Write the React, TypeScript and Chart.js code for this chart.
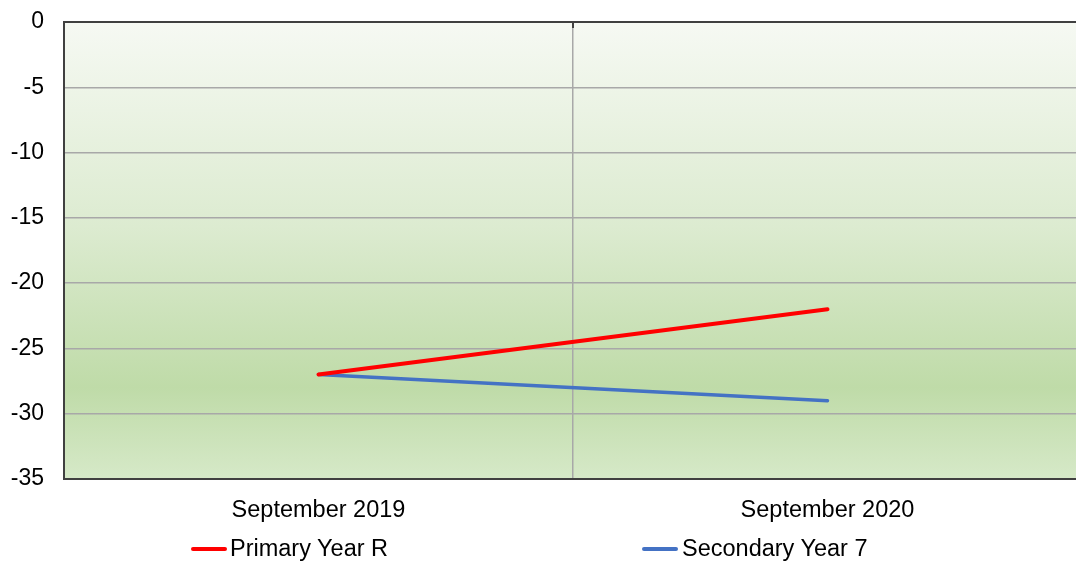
import React, { useEffect, useRef } from "react";
import { Chart, registerables } from "chart.js";

Chart.register(...registerables);

const categories = ["September 2019", "September 2020"];
const primaryYearR = [-27, -22];
const secondaryYear7 = [-27, -29];
const seriesNames = ["Primary Year R", "Secondary Year 7"];
const seriesColors = ["#ff0000", "#4472c4"];
const yMin = -35;
const yMax = 0;
const yStep = 5;

const FONT = "'Liberation Sans', Arial, sans-serif";

const bgPlugin = {
  id: "plotBg",
  beforeDraw(chart: any) {
    const { ctx, chartArea } = chart;
    if (!chartArea) return;
    const g = ctx.createLinearGradient(0, chartArea.top, 0, chartArea.bottom);
    g.addColorStop(0, "#f6f9f3");
    g.addColorStop(0.45, "#dcebd0");
    g.addColorStop(0.8, "#bfdba8");
    g.addColorStop(1, "#d6e9c8");
    ctx.save();
    ctx.fillStyle = g;
    ctx.fillRect(chartArea.left, chartArea.top, chartArea.right - chartArea.left, chartArea.bottom - chartArea.top);
    ctx.restore();
  },
  afterDraw(chart: any) {
    const { ctx, chartArea, scales } = chart;
    const xs = scales.x;
    ctx.save();
    ctx.strokeStyle = "#404040";
    ctx.lineWidth = 2;
    for (let i = 1; i < categories.length; i++) {
      const a = xs.getPixelForValue(i - 1);
      const b = xs.getPixelForValue(i);
      const x = Math.round((a + b) / 2);
      ctx.beginPath();
      ctx.moveTo(x, chartArea.top);
      ctx.lineTo(x, chartArea.top + 6);
      ctx.stroke();
    }
    ctx.restore();
  },
};

export default function App() {
  const ref = useRef<HTMLCanvasElement | null>(null);

  useEffect(() => {
    document.body.style.margin = "0";
    const canvas = ref.current;
    if (!canvas) return;
    const chart = new Chart(canvas, {
      type: "line",
      data: {
        labels: categories,
        datasets: [
          {
            label: seriesNames[0],
            data: primaryYearR,
            borderColor: seriesColors[0],
            backgroundColor: seriesColors[0],
            borderWidth: 4,
            borderCapStyle: "round",
            pointRadius: 0,
            tension: 0,
          },
          {
            label: seriesNames[1],
            data: secondaryYear7,
            borderColor: seriesColors[1],
            backgroundColor: seriesColors[1],
            borderWidth: 3.5,
            borderCapStyle: "round",
            pointRadius: 0,
            tension: 0,
          },
        ],
      },
      options: {
        responsive: false,
        animation: false,
        devicePixelRatio: 1,
        layout: { padding: { left: 0, top: 22, right: 8, bottom: 0 } },
        plugins: {
          legend: { display: false },
          tooltip: { enabled: false },
        },
        scales: {
          x: {
            offset: true,
            grid: {
              offset: true,
              drawTicks: false,
              color: "#a8a8a8",
              lineWidth: 1.5,
            },
            border: { display: true, color: "#404040", width: 2 },
            ticks: {
              font: { family: FONT, size: 23.5 },
              color: "#000000",
              padding: 17,
              maxRotation: 0,
            },
            afterFit(scale: any) {
              scale.height = 83;
              scale.paddingLeft = 0;
              scale.paddingRight = 0;
            },
          },
          y: {
            min: yMin,
            max: yMax,
            grid: {
              drawTicks: false,
              color: (c: any) => (c.tick && c.tick.value === 0 ? "#404040" : "#a8a8a8"),
              lineWidth: (c: any) => (c.tick && c.tick.value === 0 ? 2 : 1.5),
            },
            border: { display: true, color: "#404040", width: 2 },
            ticks: {
              stepSize: yStep,
              font: { family: FONT, size: 23 },
              color: "#000000",
              padding: 20,
            },
            afterFit(scale: any) {
              scale.width = 64;
              scale.paddingTop = 0;
              scale.paddingBottom = 0;
            },
          },
        },
      },
      plugins: [bgPlugin],
    });
    return () => chart.destroy();
  }, []);

  const legendTextStyle: React.CSSProperties = {
    position: "absolute",
    fontFamily: FONT,
    fontSize: 23.5,
    lineHeight: "23.5px",
    color: "#000",
    whiteSpace: "nowrap",
    top: 537,
  };

  return (
    <div style={{ position: "relative", width: 1076, height: 562, overflow: "hidden", background: "#fff" }}>
      <canvas ref={ref} width={1090} height={562} style={{ display: "block", width: 1090, height: 562 }} />
      <div style={{ position: "absolute", left: 191, top: 547, width: 36, height: 3.5, background: seriesColors[0], borderRadius: 2 }} />
      <span style={{ ...legendTextStyle, left: 230 }}>{seriesNames[0]}</span>
      <div style={{ position: "absolute", left: 642, top: 547, width: 36, height: 3.5, background: seriesColors[1], borderRadius: 2 }} />
      <span style={{ ...legendTextStyle, left: 682 }}>{seriesNames[1]}</span>
    </div>
  );
}
